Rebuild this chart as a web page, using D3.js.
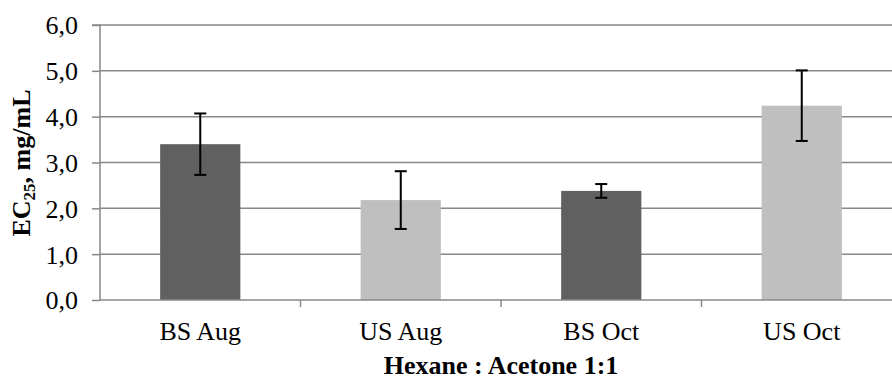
<!DOCTYPE html>
<html><head><meta charset="utf-8">
<script src="https://cdn.jsdelivr.net/npm/d3@7"></script>
<style>body{margin:0;background:#fff}svg{display:block}text{font-family:"Liberation Serif","Times New Roman",serif;fill:#000}</style>
</head><body><svg id="c" width="892" height="381"></svg>
<script>
const categories = ["BS Aug", "US Aug", "BS Oct", "US Oct"];
const values = [3.40, 2.18, 2.38, 4.24];
const errors = [0.67, 0.63, 0.15, 0.77];
const barColors = ["#606060", "#bfbfbf", "#606060", "#bfbfbf"];
const yTicks = [0, 1, 2, 3, 4, 5, 6];
const xTitle = "Hexane : Acetone 1:1";

const FS = 26;
const svg = d3.select("#c");
const L = 100, R = 902, T = 25, B = 300;
const x = d3.scaleBand().domain(categories).range([L, R]).paddingInner(0.6).paddingOuter(0.3);
const y = d3.scaleLinear().domain([0, 6]).range([B, T]);
const grid = "#888888";

// gridlines
svg.append("g").selectAll("line").data(yTicks.filter(d => d > 0)).join("line")
  .attr("x1", L).attr("x2", R).attr("y1", d => y(d)).attr("y2", d => y(d))
  .attr("stroke", grid).attr("stroke-width", 1.5);

// y axis
const ya = svg.append("g").attr("transform", `translate(${L},0)`)
  .call(d3.axisLeft(y).tickValues(yTicks).tickSize(8).tickPadding(14)
    .tickFormat(d => d3.format(".1f")(d).replace(".", ",")));
ya.select(".domain").attr("stroke", grid).attr("stroke-width", 1.5).attr("d", `M-8,${T}H0V${B}`);
ya.selectAll(".tick line").attr("stroke", grid).attr("stroke-width", 1.5);
ya.selectAll(".tick text").attr("font-size", FS).attr("dy", "0.34em").style("font-family", '"Liberation Serif",serif');

// bars
svg.append("g").selectAll("rect").data(categories).join("rect")
  .attr("x", d => x(d)).attr("width", x.bandwidth())
  .attr("y", (d, i) => y(values[i])).attr("height", (d, i) => B - y(values[i]))
  .attr("fill", (d, i) => barColors[i]);

// x axis line & ticks at band boundaries
svg.append("line").attr("x1", L).attr("x2", R).attr("y1", B).attr("y2", B)
  .attr("stroke", grid).attr("stroke-width", 1.5);
const bounds = categories.map(c => x(c) - x.step() * x.paddingInner() / 2).slice(1).concat([R]);
svg.append("g").selectAll("line").data(bounds).join("line")
  .attr("x1", d => d).attr("x2", d => d).attr("y1", B).attr("y2", B + 7)
  .attr("stroke", grid).attr("stroke-width", 1.5);
const xa = svg.append("g").attr("transform", `translate(0,${B})`)
  .call(d3.axisBottom(x).tickSize(0).tickPadding(0));
xa.select(".domain").remove();
xa.selectAll(".tick text").attr("font-size", FS).attr("dy", 0).attr("y", 40)
  .style("font-family", '"Liberation Serif",serif');

// error bars
const eb = svg.append("g").attr("stroke", "#000").attr("stroke-width", 2);
categories.forEach((c, i) => {
  const cx = x(c) + x.bandwidth() / 2;
  const y1 = y(values[i] + errors[i]), y2 = y(values[i] - errors[i]);
  eb.append("line").attr("x1", cx).attr("x2", cx).attr("y1", y1).attr("y2", y2);
  eb.append("line").attr("x1", cx - 6).attr("x2", cx + 6).attr("y1", y1).attr("y2", y1);
  eb.append("line").attr("x1", cx - 6).attr("x2", cx + 6).attr("y1", y2).attr("y2", y2);
});

// titles
svg.append("text").attr("x", (L + R) / 2).attr("y", 374).attr("text-anchor", "middle")
  .attr("font-size", FS).attr("font-weight", "bold").text(xTitle);
const yt = svg.append("text").attr("transform", "translate(30,163) rotate(-90)")
  .attr("text-anchor", "middle").attr("font-size", FS).attr("font-weight", "bold");
yt.append("tspan").text("EC");
yt.append("tspan").attr("font-size", 17).attr("dy", 5).text("25");
yt.append("tspan").attr("dy", -5).text(", mg/mL");
</script></body></html>
